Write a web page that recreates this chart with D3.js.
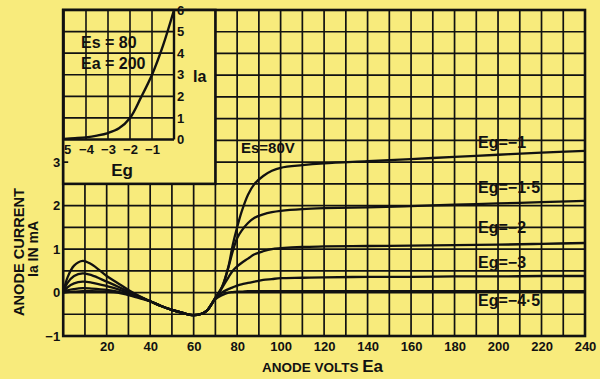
<!DOCTYPE html>
<html>
<head>
<meta charset="utf-8">
<script src="https://cdn.jsdelivr.net/npm/d3@7"></script>
<style>
  html, body { margin: 0; padding: 0; background: #f7ea7c; }
  svg { display: block; }
  text { font-family: "Liberation Sans", Arial, sans-serif; font-weight: bold; fill: #111; }
</style>
</head>
<body>
<svg id="chart" width="600" height="379"></svg>
<script>
// ---------- DATA ----------
const anodeVolts = [0, 2, 5, 9, 13, 20, 25, 30, 35, 40, 45, 50, 55, 60, 63, 66, 70, 73, 76, 78, 80, 82, 85, 88, 92, 96, 100, 110, 120, 140, 160, 180, 200, 220, 240];
const seriesNames = ["Eg=\u22121", "Eg=\u22121\u00B75", "Eg=\u22122", "Eg=\u22123", "Eg=\u22124\u00B75"];
const egMinus1   = [0, 0.35, 0.62, 0.73, 0.65, 0.38, 0.22, 0.06, -0.08, -0.2, -0.31, -0.4, -0.47, -0.52, -0.5, -0.42, -0.12, 0.12, 0.6, 1.1, 1.5, 1.85, 2.25, 2.5, 2.68, 2.8, 2.87, 2.93, 2.97, 3.02, 3.07, 3.12, 3.17, 3.22, 3.26];
const egMinus1_5 = [0, 0.22, 0.38, 0.44, 0.4, 0.25, 0.14, 0.02, -0.09, -0.2, -0.31, -0.4, -0.47, -0.52, -0.5, -0.42, -0.12, 0.12, 0.58, 0.95, 1.25, 1.42, 1.6, 1.72, 1.8, 1.85, 1.88, 1.92, 1.94, 1.96, 1.99, 2.02, 2.05, 2.08, 2.11];
const egMinus2   = [0, 0.12, 0.21, 0.25, 0.23, 0.15, 0.08, -0.01, -0.1, -0.2, -0.31, -0.4, -0.47, -0.52, -0.5, -0.42, -0.12, 0.1, 0.35, 0.5, 0.6, 0.68, 0.78, 0.88, 0.95, 1.0, 1.02, 1.05, 1.06, 1.07, 1.08, 1.09, 1.1, 1.12, 1.14];
const egMinus3   = [0, 0.05, 0.08, 0.1, 0.09, 0.06, 0.02, -0.04, -0.11, -0.2, -0.31, -0.4, -0.47, -0.52, -0.5, -0.42, -0.14, 0.0, 0.08, 0.12, 0.16, 0.19, 0.22, 0.25, 0.29, 0.31, 0.33, 0.34, 0.35, 0.36, 0.36, 0.37, 0.37, 0.38, 0.38];
const egMinus4_5 = [0, 0.01, 0.02, 0.03, 0.03, 0.02, 0.0, -0.06, -0.13, -0.2, -0.31, -0.4, -0.47, -0.52, -0.5, -0.42, -0.15, -0.06, 0.0, 0.01, 0.02, 0.02, 0.03, 0.03, 0.03, 0.03, 0.03, 0.03, 0.03, 0.03, 0.03, 0.03, 0.03, 0.03, 0.03];
const seriesValues = [egMinus1, egMinus1_5, egMinus2, egMinus3, egMinus4_5];
const xTickLabels = [20, 40, 60, 80, 100, 120, 140, 160, 180, 200, 220, 240];
const yTickLabels = [-1, 0, 1, 2, 3];

// inset: Ia vs Eg (Es = 80, Ea = 200)
const insetGrid = [-5, -4.5, -4, -3.5, -3, -2.5, -2, -1.5, -1, -0.5, 0];
const insetIa   = [0.03, 0.06, 0.1, 0.18, 0.3, 0.52, 1.0, 1.95, 3.0, 4.35, 6.0];
const insetXTicks = [-5, -4, -3, -2, -1];
const insetYTicks = [0, 1, 2, 3, 4, 5, 6];

// ---------- DRAW ----------
const svg = d3.select("#chart");
const bg = "#f8eb7c";
const ink = "#111";
svg.append("rect").attr("width", 600).attr("height", 379).attr("fill", bg);

const x = d3.scaleLinear().domain([0, 240]).range([63.2, 585]);
const y = d3.scaleLinear().domain([-1, 6.5]).range([336, 10]);

// grid
const g = svg.append("g");
g.selectAll("line.v").data(d3.range(0, 241, 10)).join("line")
  .attr("x1", d => x(d)).attr("x2", d => x(d))
  .attr("y1", y(-1)).attr("y2", y(6.5))
  .attr("stroke", ink).attr("stroke-width", 1.7);
g.selectAll("line.h").data(d3.range(-1, 6.51, 0.5)).join("line")
  .attr("y1", d => y(d)).attr("y2", d => y(d))
  .attr("x1", x(0)).attr("x2", x(240))
  .attr("stroke", ink).attr("stroke-width", 1.7);
// frame
svg.append("rect").attr("x", x(0)).attr("y", y(6.5))
  .attr("width", x(240) - x(0)).attr("height", y(-1) - y(6.5))
  .attr("fill", "none").attr("stroke", ink).attr("stroke-width", 2.6);

// curves
const line = d3.line()
  .x((d, i) => x(anodeVolts[i]))
  .y(d => y(d))
  .curve(d3.curveCatmullRom.alpha(0.5));
svg.append("g").selectAll("path").data(seriesValues).join("path")
  .attr("d", d => line(d))
  .attr("fill", "none").attr("stroke", ink).attr("stroke-width", 2.3)
  .attr("stroke-linejoin", "round");

// curve labels
const labelY = [148, 193, 233, 268, 306];
svg.append("g").selectAll("text").data(seriesNames).join("text")
  .attr("x", 478).attr("y", (d, i) => labelY[i])
  .attr("font-size", 16)
  .text(d => d);

svg.append("text").attr("x", 241).attr("y", 153).attr("font-size", 15).text("Es=80V");

// axes
const xAxis = d3.axisBottom(x).tickValues(xTickLabels).tickSize(0).tickPadding(6);
const xa = svg.append("g").attr("transform", `translate(0,${y(-1)})`).call(xAxis);
xa.select(".domain").remove();
xa.selectAll("text").attr("font-size", 13).attr("font-family", "Liberation Sans, Arial, sans-serif").attr("font-weight", "bold").attr("fill", ink);

const yAxis = d3.axisLeft(y).tickValues(yTickLabels).tickSize(0).tickPadding(3)
  .tickFormat(d => d < 0 ? "\u2212" + Math.abs(d) : d);
const ya = svg.append("g").attr("transform", `translate(${x(0)},0)`).call(yAxis);
ya.select(".domain").remove();
ya.selectAll("text").attr("font-size", 13).attr("font-family", "Liberation Sans, Arial, sans-serif").attr("font-weight", "bold").attr("fill", ink);

svg.append("text").attr("x", 262).attr("y", 372).attr("font-size", 13.5)
  .text("ANODE VOLTS ").append("tspan").attr("font-size", 17).text("Ea");

svg.append("text").attr("transform", "translate(24,252) rotate(-90)")
  .attr("text-anchor", "middle").attr("font-size", 15.5)
  .attr("textLength", 128).attr("lengthAdjust", "spacingAndGlyphs")
  .text("ANODE CURRENT");
svg.append("text").attr("transform", "translate(38,249) rotate(-90)")
  .attr("text-anchor", "middle").attr("font-size", 14)
  .text("Ia IN mA");

// ---------- INSET ----------
const inset = svg.append("g");
inset.append("rect").attr("x", x(0)).attr("y", y(6.5))
  .attr("width", x(70) - x(0)).attr("height", y(2.5) - y(6.5))
  .attr("fill", bg).attr("stroke", ink).attr("stroke-width", 2.6);
// main tick at 3 (reaches into the inset)
svg.append("line").attr("x1", x(0) - 1).attr("x2", x(0) + 5)
  .attr("y1", y(3)).attr("y2", y(3)).attr("stroke", ink).attr("stroke-width", 1.7);

const ix = d3.scaleLinear().domain([-5, 0]).range([64, 174]);
const iy = d3.scaleLinear().domain([0, 6]).range([139.5, 10]);

inset.selectAll("line.iv").data(d3.range(-5, 0.01, 1)).join("line")
  .attr("x1", d => ix(d)).attr("x2", d => ix(d))
  .attr("y1", iy(0)).attr("y2", iy(6))
  .attr("stroke", ink).attr("stroke-width", d => (d === 0 ? 2.4 : 1.6));
inset.selectAll("line.ih").data(d3.range(0, 6.01, 1)).join("line")
  .attr("y1", d => iy(d)).attr("y2", d => iy(d))
  .attr("x1", ix(-5)).attr("x2", ix(0))
  .attr("stroke", ink).attr("stroke-width", d => (d === 0 ? 2.4 : 1.6));

const iline = d3.line()
  .x((d, i) => ix(insetGrid[i]))
  .y(d => iy(d))
  .curve(d3.curveCatmullRom.alpha(0.5));
inset.append("path").attr("d", iline(insetIa))
  .attr("fill", "none").attr("stroke", ink).attr("stroke-width", 2.4);

// inset axis labels
const iya = inset.append("g").attr("transform", `translate(${ix(0)},0)`)
  .call(d3.axisRight(iy).tickValues(insetYTicks).tickSize(0).tickPadding(3).tickFormat(d3.format("d")));
iya.select(".domain").remove();
iya.selectAll("text").attr("font-size", 13).attr("font-family", "Liberation Sans, Arial, sans-serif").attr("font-weight", "bold").attr("fill", ink);

const ixa = inset.append("g").attr("transform", `translate(0,${iy(0)})`)
  .call(d3.axisBottom(ix).tickValues(insetXTicks).tickSize(0).tickPadding(5)
    .tickFormat(d => d === -5 ? "5" : "\u2212" + Math.abs(d)));
ixa.select(".domain").remove();
ixa.selectAll("text").attr("font-size", 13).attr("font-family", "Liberation Sans, Arial, sans-serif").attr("font-weight", "bold").attr("fill", ink);
ixa.selectAll(".tick").filter(d => d === -5).select("text").attr("x", 3);

inset.append("text").attr("x", 122).attr("y", 176).attr("text-anchor", "middle")
  .attr("font-size", 17).text("Eg");
inset.append("text").attr("x", 193).attr("y", 82).attr("font-size", 16).text("Ia");
inset.append("text").attr("x", 81).attr("y", 48).attr("font-size", 16).text("Es = 80");
inset.append("text").attr("x", 81).attr("y", 69).attr("font-size", 16).text("Ea = 200");
</script>
</body>
</html>
